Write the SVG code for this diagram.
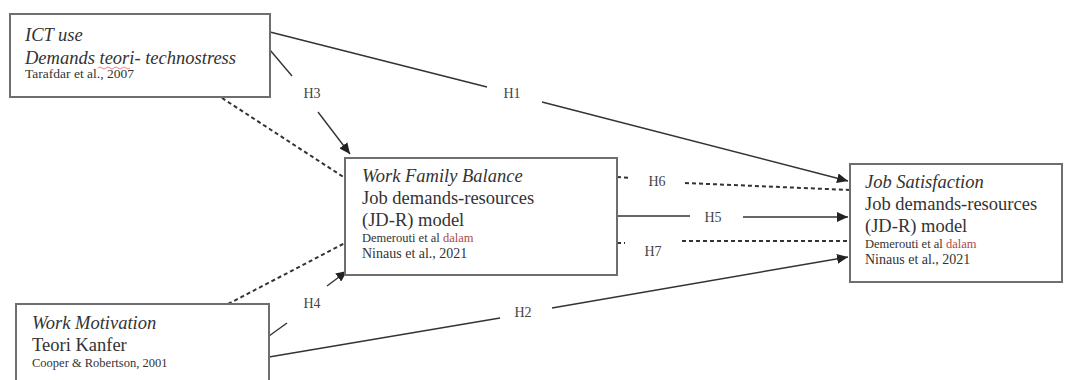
<svg xmlns="http://www.w3.org/2000/svg" width="1065" height="380" viewBox="0 0 1065 380">
<defs>
<style>
.box{fill:#fff;stroke:#6e6e6e;stroke-width:2}
.t{font-family:"Liberation Serif","Times New Roman",serif;fill:#333}
.big{font-size:18.5px}
.it{font-style:italic}
.sm{font-size:12.5px}
.md{font-size:14px}
.lbl{font-family:"Liberation Serif","Times New Roman",serif;font-size:14px;fill:#444;text-anchor:middle}
.c{fill:none;stroke:#333;stroke-width:1.4}
.d{fill:none;stroke:#333;stroke-width:2;stroke-dasharray:4 3}
.sq{fill:none;stroke:#e05050;stroke-width:1;opacity:0.7}
</style>
<marker id="arr" markerUnits="userSpaceOnUse" markerWidth="12" markerHeight="10" refX="11" refY="5" orient="auto">
<path d="M0,0 L11,5 L0,10 z" fill="#222"/>
</marker>
</defs>
<rect width="1065" height="380" fill="#fff"/>

<g id="connectors">
<path class="c" d="M270,32 L487,87"/>
<path class="c" d="M542,102 L848,181" marker-end="url(#arr)"/>
<text class="lbl" x="512" y="98">H1</text>

<path class="c" d="M270,50 L292,76"/>
<path class="c" d="M318,112 L350,154" marker-end="url(#arr)"/>
<text class="lbl" x="312" y="98">H3</text>

<path class="d" d="M222,98 L345,178"/>

<path class="d" d="M617,177 L630,178"/>
<path class="d" d="M685,183 L850,190"/>
<text class="lbl" x="657" y="186">H6</text>

<path class="c" d="M617,216 L690,216"/>
<path class="c" d="M743,217 L848,217" marker-end="url(#arr)"/>
<text class="lbl" x="713" y="222">H5</text>

<path class="d" d="M617,243 L625,243"/>
<path class="d" d="M682,241 L850,241"/>
<text class="lbl" x="653" y="256">H7</text>

<path class="d" d="M228,304 L345,243"/>

<path class="c" d="M269,336 L287,323"/>
<path class="c" d="M327,286 L347,271" marker-end="url(#arr)"/>
<text class="lbl" x="312" y="308">H4</text>

<path class="c" d="M269,357 L500,318"/>
<path class="c" d="M552,308 L848,257" marker-end="url(#arr)"/>
<text class="lbl" x="523" y="317">H2</text>
</g>

<g id="ict">
<rect class="box" x="10" y="14" width="260" height="83"/>
<text class="t big it" x="25" y="41">ICT use</text>
<text class="t big it" x="25" y="64">Demands teori- technostress</text>
<path class="sq" d="M98,68 q2,-2 4,0 t4,0 t4,0 t4,0 t4,0 t4,0 t4,0 t4,0"/>
<text class="t md" x="25" y="78" style="font-size:13.5px">Tarafdar et al., 2007</text>
</g>

<g id="wfb">
<rect class="box" x="345" y="158" width="272" height="117"/>
<text class="t big it" x="362" y="182">Work Family Balance</text>
<text class="t big" x="362" y="204">Job demands-resources</text>
<text class="t big" x="362" y="226">(JD-R) model</text>
<text class="t sm" x="362" y="242">Demerouti et al <tspan fill="#b04848">dalam</tspan></text>
<text class="t md" x="362" y="258">Ninaus et al., 2021</text>
</g>

<g id="js">
<rect class="box" x="850" y="164" width="212" height="118"/>
<text class="t big it" x="865" y="188">Job Satisfaction</text>
<text class="t big" x="865" y="210">Job demands-resources</text>
<text class="t big" x="865" y="232">(JD-R) model</text>
<text class="t sm" x="865" y="248">Demerouti et al <tspan fill="#b04848">dalam</tspan></text>
<text class="t md" x="865" y="264">Ninaus et al., 2021</text>
</g>

<g id="wm">
<rect class="box" x="16" y="304" width="253" height="90"/>
<text class="t big it" x="32" y="329">Work Motivation</text>
<text class="t big" x="32" y="351">Teori Kanfer</text>
<text class="t sm" x="32" y="367">Cooper &amp; Robertson, 2001</text>
</g>
</svg>
